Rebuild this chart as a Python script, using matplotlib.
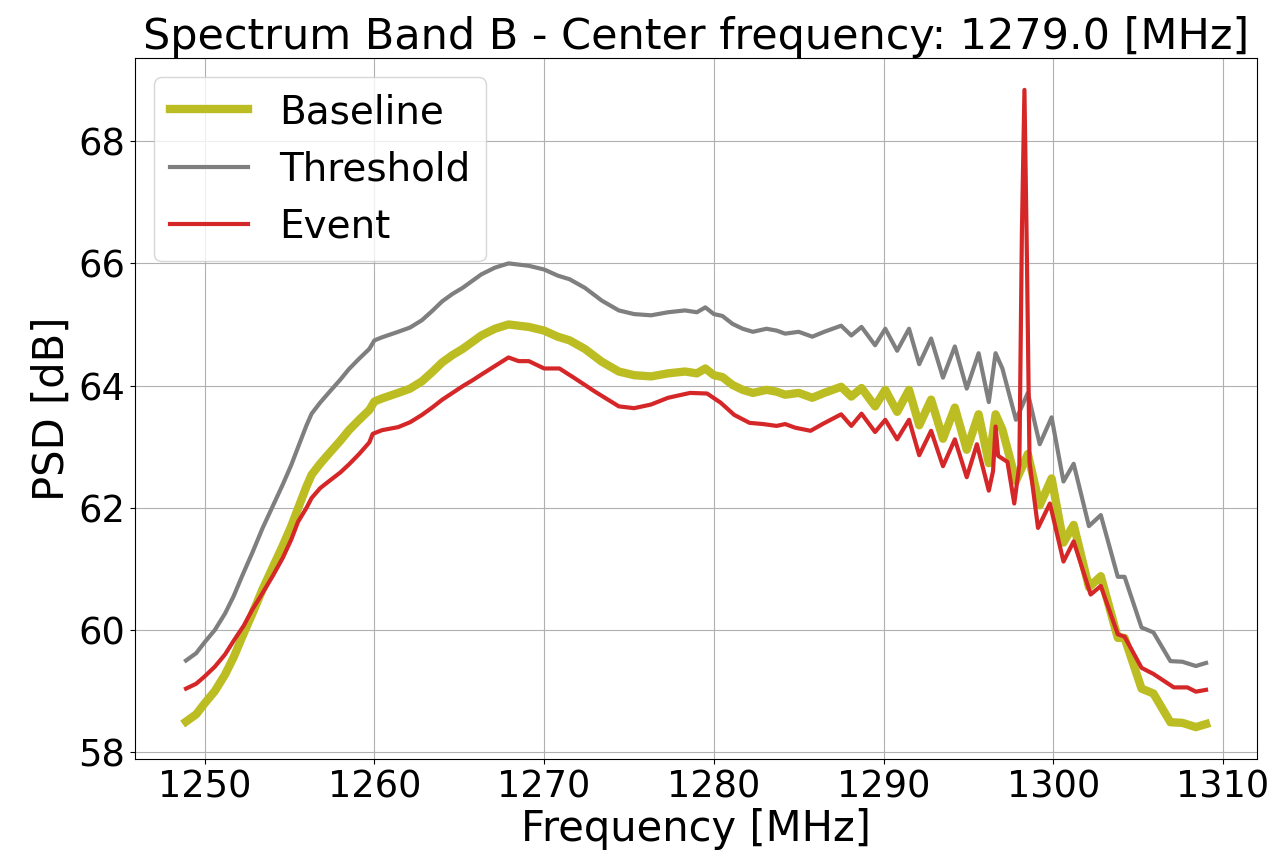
import numpy as np
import matplotlib
matplotlib.use("Agg")
from matplotlib import pyplot as plt

# frequency [MHz] / PSD [dB]
baseline_freq = [
    1248.9, 1249.5, 1250.0, 1250.6, 1251.2, 1251.7, 1252.2, 1252.8, 1253.4, 1254.0,
    1254.6, 1255.1, 1255.5, 1256.0, 1256.3, 1256.8, 1257.3, 1258.0, 1258.5, 1259.1,
    1259.7, 1260.0, 1260.45, 1261.4, 1262.1, 1262.8, 1263.4, 1264.0, 1264.6, 1265.2,
    1265.8, 1266.3, 1267.1, 1267.9, 1268.5, 1269.1, 1270.0, 1270.8, 1271.5, 1272.4,
    1273.4, 1274.4, 1275.3, 1276.3, 1277.3, 1278.3, 1279.0, 1279.5, 1280.0, 1280.5,
    1281.1, 1281.7, 1282.3, 1283.1, 1283.7, 1284.2, 1285.0, 1285.8, 1286.5, 1287.5,
    1288.1, 1288.7, 1289.5, 1290.1, 1290.8, 1291.5, 1292.1, 1292.8, 1293.5, 1294.2,
    1294.9, 1295.6, 1296.2, 1296.6, 1297.0, 1297.8, 1298.5, 1299.2, 1299.9, 1300.6,
    1301.2, 1302.1, 1302.8, 1303.8, 1304.2, 1305.2, 1305.9, 1306.9, 1307.6, 1308.4,
    1309.0,
]
baseline_psd = [
    58.50, 58.62, 58.80, 59.00, 59.27, 59.55, 59.88, 60.26, 60.66, 61.02,
    61.38, 61.70, 61.99, 62.35, 62.54, 62.72, 62.88, 63.10, 63.27, 63.44,
    63.60, 63.74, 63.79, 63.88, 63.95, 64.07, 64.22, 64.38, 64.50, 64.60,
    64.72, 64.82, 64.93, 65.00, 64.98, 64.96, 64.90, 64.80, 64.74, 64.60,
    64.39, 64.23, 64.17, 64.15, 64.20, 64.23, 64.20, 64.28, 64.17, 64.14,
    64.01, 63.93, 63.88, 63.93, 63.90, 63.85, 63.88, 63.80, 63.88, 63.98,
    63.82, 63.96, 63.66, 63.93, 63.57, 63.93, 63.35, 63.77, 63.13, 63.64,
    62.95, 63.53, 62.73, 63.53, 63.28, 62.44, 62.88, 62.04, 62.48, 61.43,
    61.72, 60.70, 60.88, 59.87, 59.87, 59.04, 58.96, 58.49, 58.48, 58.41,
    58.46,
]
# threshold sits 1 dB above the baseline everywhere in the reference
threshold_margin = 1.0

event_freq = [
    1248.9, 1249.5, 1250.0, 1250.6, 1251.2, 1251.7, 1252.3, 1252.8, 1253.4, 1254.0,
    1254.6, 1255.1, 1255.5, 1256.0, 1256.3, 1256.8, 1257.3, 1258.0, 1258.5, 1259.1,
    1259.7, 1259.9, 1260.45, 1261.4, 1262.1, 1262.8, 1263.4, 1264.0, 1264.6, 1265.2,
    1265.8, 1266.3, 1267.1, 1267.9, 1268.5, 1269.1, 1270.0, 1270.9, 1271.8, 1273.0,
    1274.4, 1275.3, 1276.3, 1277.3, 1278.6, 1279.6, 1280.4, 1281.2, 1282.1, 1282.9,
    1283.7, 1284.2, 1284.8, 1285.7, 1286.4, 1287.5, 1288.1, 1288.7, 1289.5, 1290.1,
    1290.8, 1291.5, 1292.1, 1292.8, 1293.5, 1294.2, 1294.9, 1295.5, 1296.2, 1296.45,
    1296.6, 1296.75, 1297.3, 1297.7, 1298.0, 1298.15, 1298.3, 1298.45, 1298.6, 1299.1,
    1299.8, 1300.6, 1301.2, 1302.2, 1302.8, 1303.8, 1304.2, 1305.2, 1305.9, 1307.1,
    1307.9, 1308.4, 1309.0,
]
event_psd = [
    59.04, 59.12, 59.24, 59.40, 59.60, 59.82, 60.07, 60.33, 60.60, 60.88,
    61.18, 61.48, 61.77, 62.00, 62.16, 62.32, 62.43, 62.58, 62.71, 62.88,
    63.07, 63.21, 63.27, 63.32, 63.40, 63.52, 63.64, 63.77, 63.88, 63.99,
    64.09, 64.18, 64.32, 64.46, 64.40, 64.40, 64.28, 64.28, 64.12, 63.90,
    63.66, 63.63, 63.69, 63.80, 63.88, 63.87, 63.72, 63.52, 63.39, 63.37,
    63.34, 63.37, 63.31, 63.26, 63.37, 63.53, 63.34, 63.54, 63.24, 63.44,
    63.12, 63.44, 62.86, 63.26, 62.68, 63.12, 62.50, 63.04, 62.28, 62.60,
    63.33, 62.85, 62.75, 62.07, 62.70, 66.50, 68.84, 66.00, 62.75, 61.67,
    62.07, 61.12, 61.45, 60.58, 60.72, 59.93, 59.89, 59.38, 59.28, 59.06,
    59.06, 58.99, 59.02,
]

center_freq = 1279.0

fig, ax = plt.subplots(figsize=(12.81, 8.67), dpi=100)
fig.subplots_adjust(left=0.1054, right=0.9813, bottom=0.1246, top=0.9331)

baseline = np.array(baseline_psd)
ax.plot(baseline_freq, baseline, color="#bcbd22", lw=6, label="Baseline")
ax.plot(baseline_freq, baseline + threshold_margin, color="#7f7f7f", lw=3,
        label="Threshold")
ax.plot(event_freq, event_psd, color="#d62728", lw=3, label="Event")

ax.set_title(f"Spectrum Band B - Center frequency: {center_freq:.1f} [MHz]",
             fontsize=31)
ax.set_xlabel("Frequency [MHz]", fontsize=30, labelpad=2)
ax.set_ylabel("PSD [dB]", fontsize=30)
ax.set_xticks([1250, 1260, 1270, 1280, 1290, 1300, 1310])
ax.set_yticks([58, 60, 62, 64, 66, 68])
ax.tick_params(labelsize=26.5)
ax.grid(True)
ax.legend(loc="upper left", fontsize=28)

fig.savefig("out.png", dpi=100)
